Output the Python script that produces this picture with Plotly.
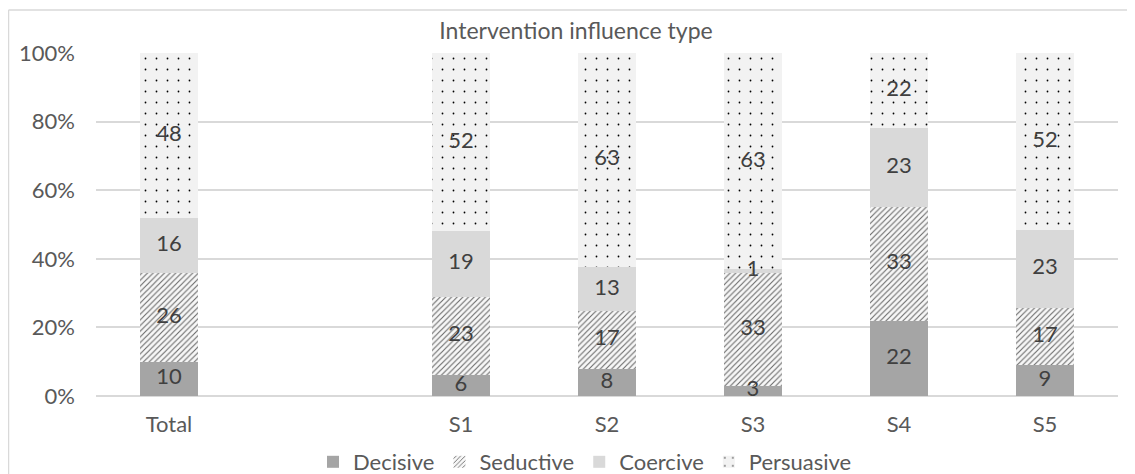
import plotly.graph_objects as go

# ---- data ----
categories = ["Total", " ", "S1", "S2", "S3", "S4", "S5"]
bar_categories = ["Total", "S1", "S2", "S3", "S4", "S5"]
decisive = [10, 6, 8, 3, 22, 9]
seductive = [26, 23, 17, 33, 33, 17]
coercive = [16, 19, 13, 1, 23, 23]
persuasive = [48, 52, 63, 63, 22, 52]
y_ticks = [0, 20, 40, 60, 80, 100]
y_tick_labels = ["0%", "20%", "40%", "60%", "80%", "100%"]
title_text = "Intervention influence type"

FONT = "Lato"
FS = 22
OFF = 8  # page body margin offset
W, H = 1135 - OFF, 474 - OFF
# plot area in reference-picture pixels
RL, RR, RT, RB = 96, 1118, 53, 396
L, R, T, B = RL - OFF, RR - OFF, RT - OFF, RB - OFF


def px_x(px):  # reference picture x -> paper
    return (px - RL) / (RR - RL)


def px_y(py):  # reference picture y -> paper
    return (RB - py) / (RB - RT)


series = [
    ("Decisive", decisive, dict(color="#a5a5a5")),
    ("Seductive", seductive, dict(color="#f2f2f2",
                                  pattern=dict(shape="/", fgcolor="#6a6a6a", bgcolor="#f7f7f7",
                                               size=4, solidity=0.28, fillmode="replace"))),
    ("Coercive", coercive, dict(color="#d9d9d9")),
    ("Persuasive", persuasive, dict(color="#f2f2f2",
                                    pattern=dict(shape=".", fgcolor="#000000", bgcolor="#f2f2f2",
                                                 size=11, solidity=0.02, fillmode="replace"))),
]

fig = go.Figure()
for name, vals, marker in series:
    fig.add_trace(go.Bar(
        name=name, x=bar_categories, y=vals,
        marker=dict(line=dict(width=0), **marker),
        hovertemplate="%{x}: %{y}<extra>" + name + "</extra>",
    ))

# data labels drawn on top of all bars, centred in each (percent-normalised) segment
totals = [sum(s[1][i] for s in series) for i in range(len(bar_categories))]
cum = [0.0] * len(bar_categories)
for name, vals, marker in series:
    mids = []
    for i, v in enumerate(vals):
        mids.append((cum[i] + v / 2) / totals[i] * 100)
        cum[i] += v
    fig.add_trace(go.Scatter(
        x=bar_categories, y=mids, mode="text", text=[str(v) for v in vals],
        textposition="middle center", cliponaxis=False, showlegend=False, hoverinfo="skip",
        textfont=dict(family=FONT, size=FS, color="#404040"),
    ))

shapes = [
    dict(type="line", xref="paper", yref="paper", x0=px_x(8.5), x1=px_x(1140),
         y0=px_y(10), y1=px_y(10), line=dict(color="#d9d9d9", width=1.5)),
    dict(type="line", xref="paper", yref="paper", x0=px_x(8.5), x1=px_x(8.5),
         y0=px_y(10), y1=px_y(480), line=dict(color="#d9d9d9", width=1.5)),
]

fig.update_layout(
    width=W, height=H,
    margin=dict(l=L, r=W - R, t=T, b=H - B, autoexpand=False),
    barmode="stack", barnorm="percent", bargap=0.6,
    plot_bgcolor="white", paper_bgcolor="white",
    font=dict(family=FONT, size=FS, color="#595959"),
    title=dict(text=title_text, xref="container", x=(576 - OFF) / W, xanchor="center",
               yref="container", y=1 - (31 - OFF) / H, yanchor="middle",
               font=dict(family=FONT, size=23, color="#595959")),
    showlegend=True,
    legend=dict(orientation="h", traceorder="normal", xref="container", x=(585 - OFF) / W,
                xanchor="center", yref="container", y=1 - (462 - OFF) / H, yanchor="middle",
                font=dict(family=FONT, size=FS, color="#595959"),
                itemwidth=30, tracegroupgap=0),
    shapes=shapes,
    xaxis=dict(type="category", categoryorder="array", categoryarray=categories,
               tickvals=categories, ticktext=categories, automargin=False,
               showgrid=False, showline=False, ticks="", ticklabelstandoff=13,
               tickfont=dict(family=FONT, size=FS, color="#595959"),
               range=[-0.5, len(categories) - 0.5]),
    yaxis=dict(range=[0, 100], tickvals=y_ticks, ticktext=y_tick_labels, automargin=False,
               showgrid=True, gridcolor="#d9d9d9", gridwidth=1.5,
               zeroline=True, zerolinecolor="#d9d9d9", zerolinewidth=1.5,
               showline=False, ticks="", ticklabelstandoff=20,
               tickfont=dict(family=FONT, size=FS, color="#595959")),
)

fig.write_html("out.html")
